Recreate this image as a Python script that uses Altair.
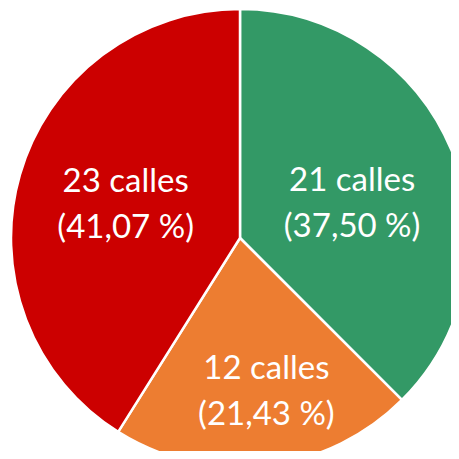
import altair as alt
import pandas as pd
import math

categories = ["verde", "naranja", "rojo"]
counts = [21, 12, 23]
percents = ["37,50 %", "21,43 %", "41,07 %"]
colors = ["#339966", "#ED7D31", "#CC0000"]

df = pd.DataFrame({
    "cat": categories,
    "value": counts,
    "order": list(range(len(categories))),
    "label": [f"{c} calles\n({p})" for c, p in zip(counts, percents)],
})

CX, CY, R = 232, 230, 229

pie = alt.Chart(df).mark_arc(outerRadius=R, stroke="white", strokeWidth=2.5).encode(
    theta=alt.Theta("value:Q", stack=True),
    order=alt.Order("order:Q"),
    x=alt.value(CX),
    y=alt.value(CY),
    color=alt.Color("cat:N", scale=alt.Scale(domain=categories, range=colors), legend=None),
)

lab_base = alt.Chart(df).transform_window(
    cum="sum(value)", sort=[alt.SortField("order")], frame=[None, 0]
).transform_joinaggregate(
    total="sum(value)"
).transform_calculate(
    mid="(datum.cum - datum.value / 2) / datum.total"
).encode(
    theta=alt.Theta("mid:Q", scale=alt.Scale(domain=[0, 1], range=[0, 2 * math.pi])),
    x=alt.value(CX),
    y=alt.value(CY),
    text="label:N",
)

txt_style = dict(font="Lato", fontSize=33, color="white", lineBreak="\n",
                 lineHeight=46, align="center", baseline="middle")

# label placement per slice: (radius, dx, dy)
placement = {"verde": (117, 4, -12), "naranja": (155, 9, -23), "rojo": (119, 0, -23)}

label_layers = [
    lab_base.transform_filter(alt.datum.cat == c).mark_text(
        radius=placement[c][0], dx=placement[c][1], dy=placement[c][2], **txt_style)
    for c in categories
]

chart = alt.layer(pie, *label_layers).resolve_scale(
    theta="independent"
).properties(
    width=443, height=443, padding=0, autosize="none"
).configure_view(stroke=None)

chart.save("out.html", embed_options={"renderer": "svg", "actions": False})
